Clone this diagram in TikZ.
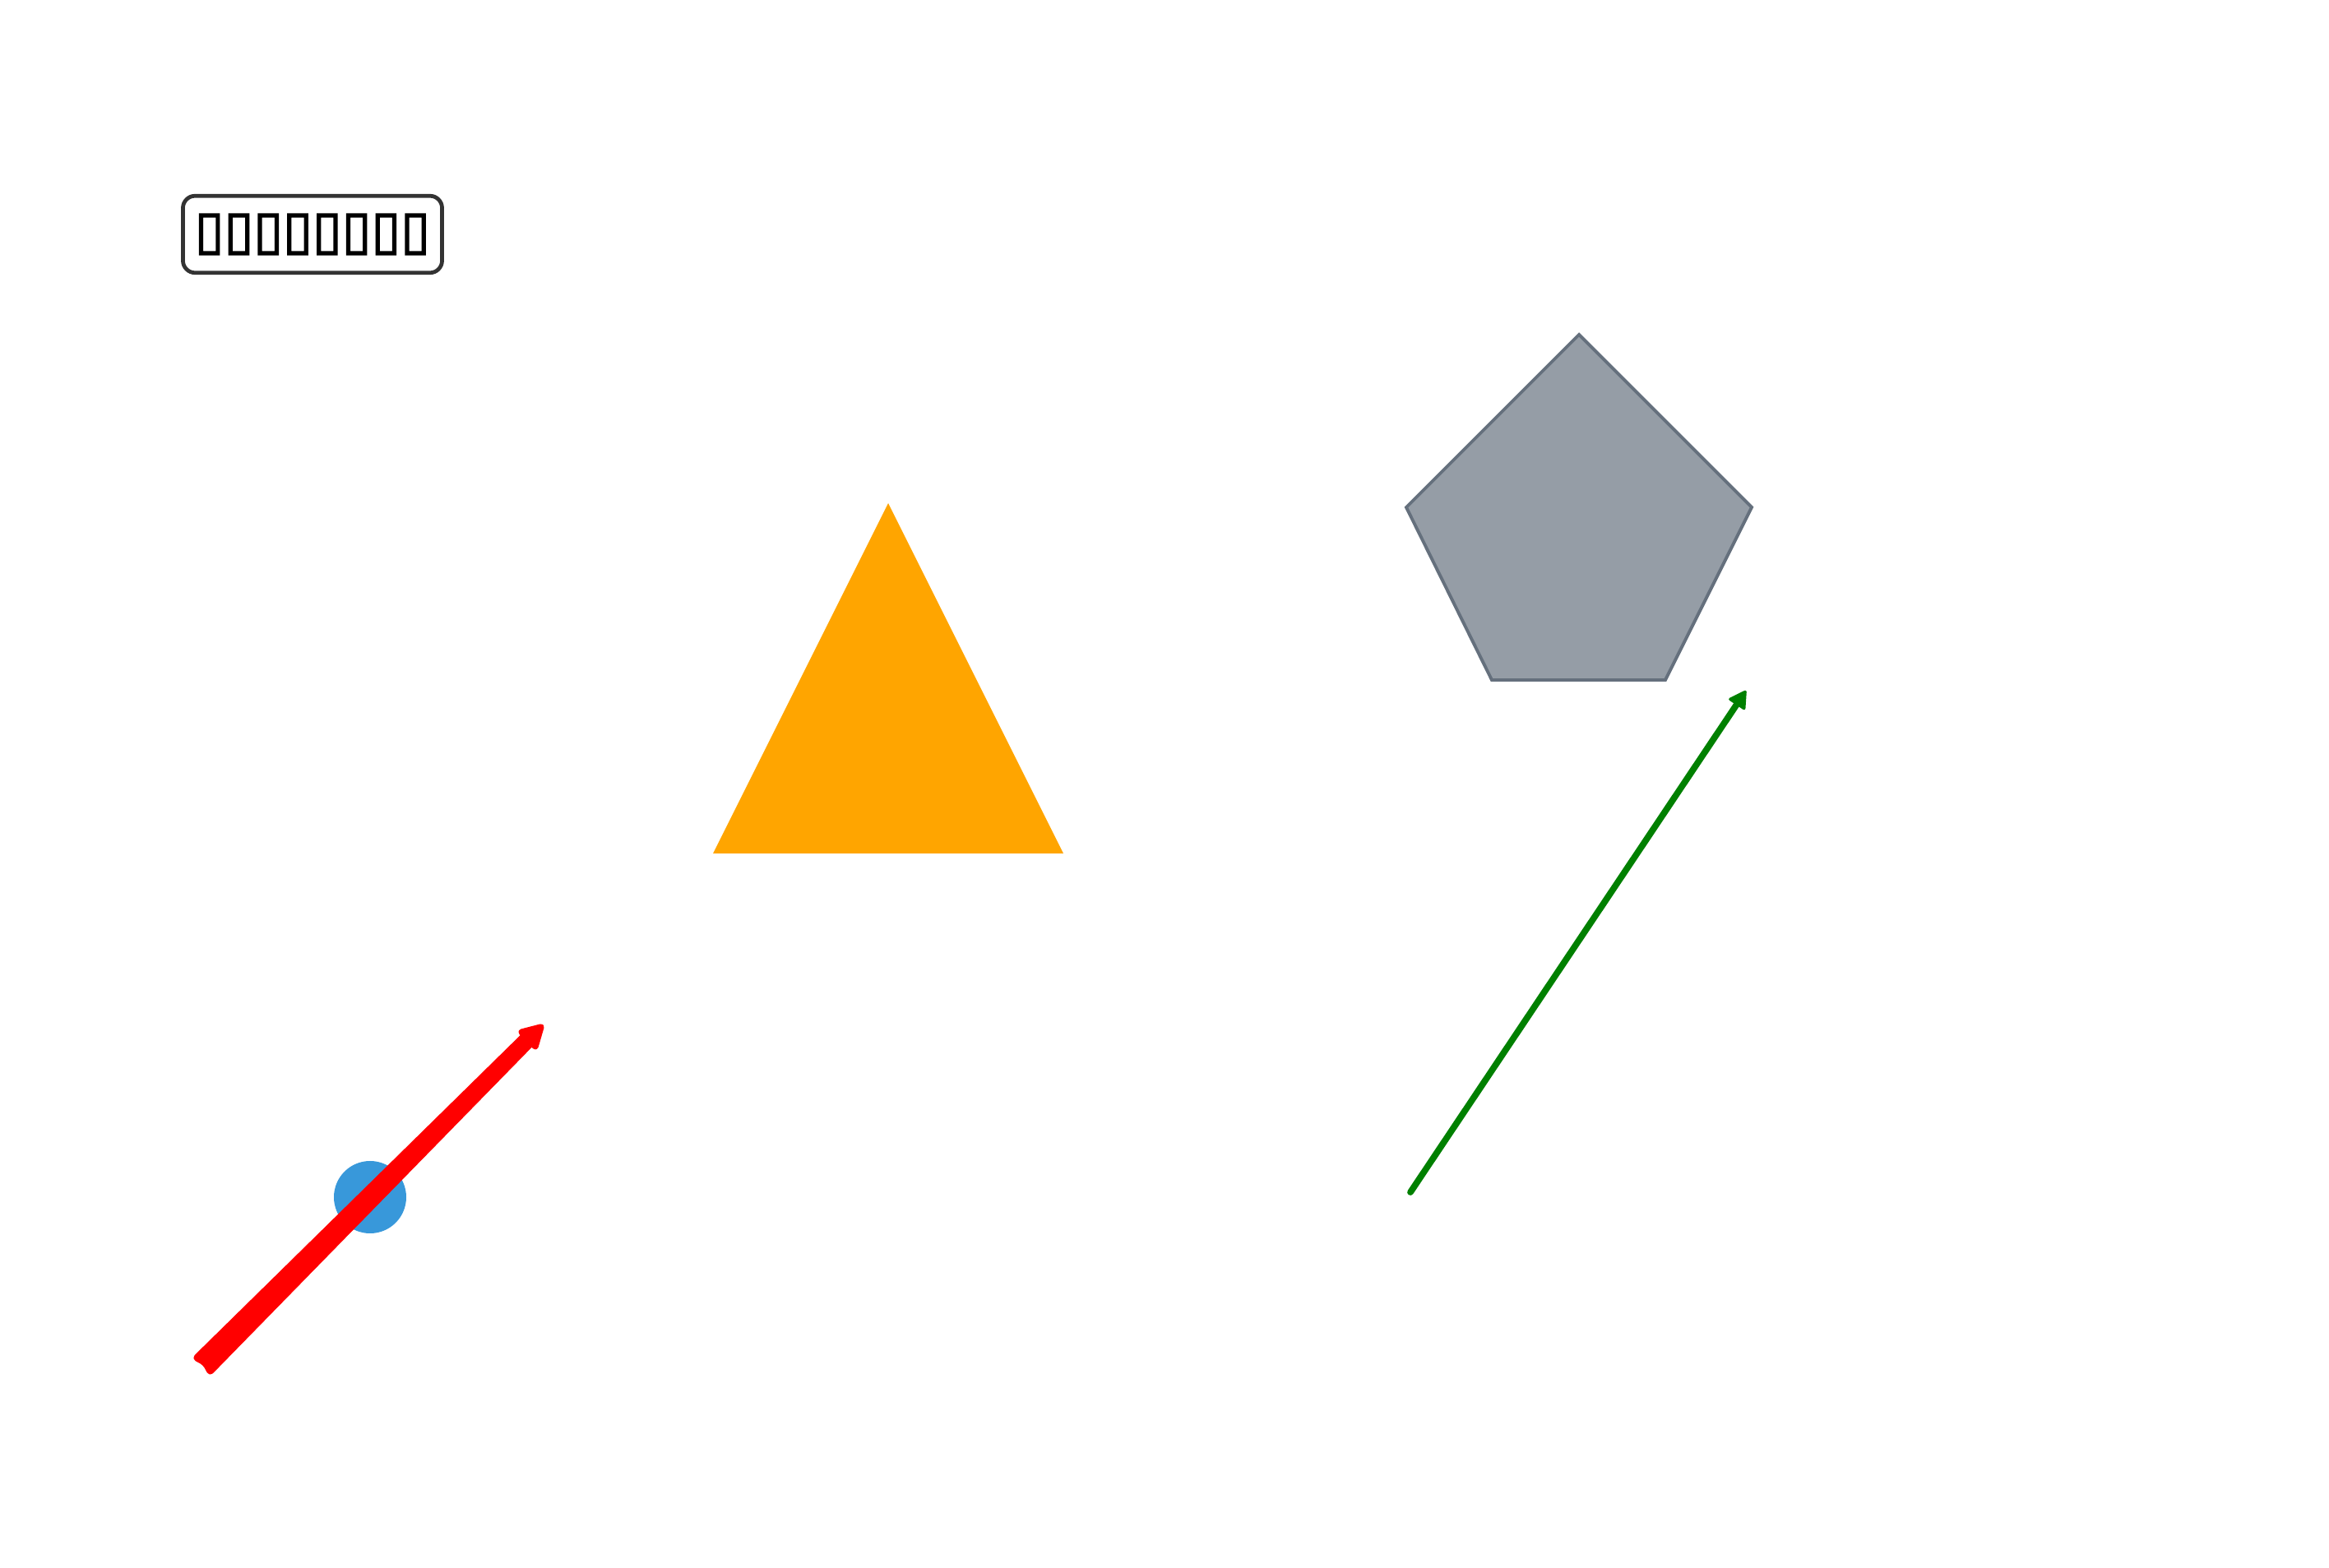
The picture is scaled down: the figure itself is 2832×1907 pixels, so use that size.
\documentclass[tikz,border=0pt]{standalone}
\usepackage{fontspec}
\newfontfamily\symfont{DejaVu Sans}[FakeBold=2.5]
\usetikzlibrary{arrows.meta,calc}
\definecolor{orangeT}{HTML}{FFA500}
\definecolor{slateF}{HTML}{959DA6}
\definecolor{slateD}{HTML}{65707D}
\definecolor{blueC}{HTML}{3898DA}
\definecolor{greenA}{HTML}{008000}
\definecolor{boxD}{HTML}{333333}
\tikzset{
  labelbox/.style={draw=boxD, line width=1.35pt, rounded corners=4.2pt, fill=white,
    minimum width=89.6pt, minimum height=26.6pt, inner sep=0pt, font=\symfont\fontsize{18.5}{18.5}\selectfont},
  redshape/.style={fill=red, draw=red, line width=0.9pt, line join=round, rounded corners=1.2pt},
  greenarrow/.style={draw=greenA, line width=2.2pt, line cap=round,
    -{Triangle[length=6.5pt, width=7.2pt, round, line width=1pt]}}
}
\begin{document}
\begin{tikzpicture}[x=0.01cm,y=-0.01cm]
\useasboundingbox (0,0) rectangle (2832,1907);
% label
\node[labelbox] (lbl) at (380,285) {▯▯▯▯▯▯▯▯};
% triangle
\fill[orangeT] (1080,612) -- (1293,1038) -- (867,1038) -- cycle;
% pentagon
\filldraw[fill=slateF, draw=slateD, line width=1.1pt, line join=miter]
  (1920,407) -- (2130,617) -- (2025,827) -- (1814,827) -- (1710,617) -- cycle;
% blue circle
\fill[blueC] (450,1456) circle[radius=44];
% red arrow: tapered shaft with notched tail, and its head
\coordinate (rtl) at (235,1652);
\coordinate (rtr) at (255,1672);
\coordinate (rtn) at (248,1659);
\coordinate (rhl) at (638,1256);
\coordinate (rhr) at (650,1268);
\coordinate (rtip) at (661,1246);
\coordinate (rbl) at (630,1254);
\coordinate (rbr) at (652,1277);
\path[redshape] (rtl) -- (rhl) -- (rhr) -- (rtr) -- (rtn) -- cycle;
\path[redshape] (rtip) -- (rbl) -- (rbr) -- cycle;
% green arrow
\coordinate (ga) at (1715,1450);
\coordinate (gb) at (2123,840);
\draw[greenarrow] (ga) -- (gb);
\end{tikzpicture}
\end{document}
